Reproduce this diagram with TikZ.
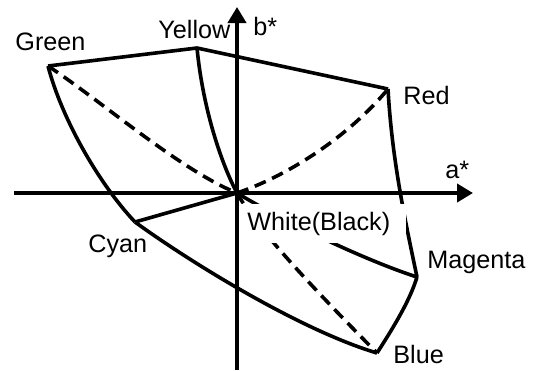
\documentclass[tikz,border=0pt]{standalone}
\usepackage{fontspec}
\setmainfont{Liberation Sans}
\usetikzlibrary{arrows.meta}

\begin{document}
\begin{tikzpicture}[x=0.5pt,y=-0.5pt,
  font=\fontsize{12.6}{15}\selectfont,
  edge/.style={line width=1.8pt,line join=round},
  hue/.style={line width=1.8pt,dash pattern=on 6pt off 3.5pt},
  axis/.style={line width=2.2pt,-{Triangle[length=8pt,width=9pt]}},
  lbl/.style={anchor=base west,inner sep=0pt}]

\useasboundingbox (0,0) rectangle (534,370);

% corners of the gamut on the a*b* plane
\coordinate (O) at (237,193);
\coordinate (G) at (48,66);
\coordinate (Y) at (197,48);
\coordinate (R) at (388,89);
\coordinate (M) at (417,277);
\coordinate (B) at (377,353);
\coordinate (C) at (135,222);

% outer boundary, solid
\draw[edge] (G) -- (Y) -- (R);
\draw[edge] (R) .. controls (392,160) and (405,220) .. (M);
\draw[edge] (M) .. controls (410,300) and (395,325) .. (B);
\draw[edge] (B) .. controls (300,330) and (190,262) .. (C);
\draw[edge] (C) .. controls (100,185) and (62,120) .. (G);

% lines from the white point
\draw[edge] (Y) .. controls (203,110) and (222,165) .. (O);
\draw[edge] (C) -- (O);
\draw[edge] (O) .. controls (290,225) and (370,262) .. (M);
\draw[hue] (G) .. controls (100,100) and (180,170) .. (O); % dashed
\draw[hue] (O) .. controls (290,175) and (350,135) .. (R); % dashed
\draw[hue] (O) .. controls (255,225) and (300,275) .. (B); % dashed

% white point label, covers the lines under it
\node [lbl,fill=white,inner xsep=8pt,inner ysep=4pt] (white) at (231,230) {White(Black)};

% axes
\coordinate (xl) at (14,193);
\coordinate (xr) at (473,193);
\coordinate (yb) at (237,370);
\coordinate (yt) at (237,7);
\draw[axis] (xl) -- (xr);
\draw[axis] (yb) -- (yt);

% labels
\node [lbl] (green) at (15,50) {Green};
\node [lbl] (yellow) at (158,38) {Yellow};
\node [lbl] (bstar) at (253,35) {b*};
\node [lbl] (red) at (403,104) {Red};
\node [lbl] (astar) at (445,178) {a*};
\node [lbl] (cyan) at (88,252) {Cyan};
\node [lbl] (magenta) at (427,268) {Magenta};
\node [lbl] (blue) at (393,363) {Blue};

\end{tikzpicture}
\end{document}
